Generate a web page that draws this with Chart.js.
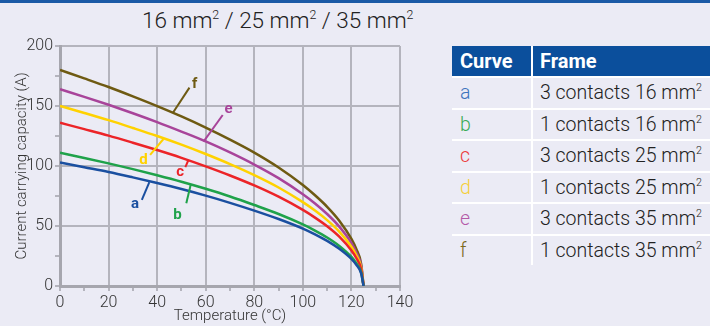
<!DOCTYPE html>
<html>
<head>
<meta charset="utf-8">
<script src="https://cdn.jsdelivr.net/npm/chart.js@4.4.1/dist/chart.umd.min.js"></script>
<style>
  html, body { margin: 0; padding: 0; }
  body { width: 710px; height: 326px; background: #ebebf5; position: relative; overflow: hidden;
         font-family: Roboto, "Liberation Sans", sans-serif; color: #333; }
  #topbar { position: absolute; left: 0; top: 0; width: 710px; height: 3px; background: #1b5aa6; }
  #title { position: absolute; left: 142px; top: 7px; font-size: 22.5px; font-weight: 300; color: #222; white-space: nowrap; }
  sup { font-size: 0.55em; vertical-align: 0.75em; line-height: 0; }
  #wrap { position: absolute; left: 0; top: 0; width: 430px; height: 326px; }
  #tbl { position: absolute; left: 452px; top: 46px; width: 258px; }
  .row { display: flex; height: 29.5px; border-bottom: 2px solid #fff; font-size: 19.5px; font-weight: 300; line-height: 29.5px; color: #222; }
  .row:last-child { border-bottom: none; }
  .row .c1 { width: 71px; padding-left: 8px; border-right: 2px solid #fff; }
  .row .c2 { flex: 1; padding-left: 7px; white-space: nowrap; }
  .head { height: 30px; line-height: 30px; background: #0b4f9c; color: #fff; font-weight: bold; font-size: 20px; }
  .head .c1 { border-right: 2px solid #fff; }
</style>
</head>
<body>
<div id="topbar"></div>
<div id="title">16 mm<sup>2</sup> / 25 mm<sup>2</sup> / 35 mm<sup>2</sup></div>
<div id="wrap"><canvas id="myChart"></canvas></div>
<div id="tbl"></div>
<script>
// curve values (A) at these temperatures (°C)
const temps = [0, 10, 20, 30, 40, 50, 60, 70, 80, 90, 100, 105, 110, 115, 120, 122, 124, 125];
const curveA = [103, 99, 95, 90.5, 85.8, 80.8, 75.3, 69.3, 62.8, 55.8, 47.8, 43, 37.6, 31, 22.5, 17.6, 10.5, 0];
const curveB = [111, 106.7, 102.2, 97.4, 92.3, 86.9, 81, 74.6, 67.5, 60, 51.3, 46.2, 40.4, 33.4, 24.2, 19, 11.3, 0];
const curveC = [136, 130.7, 125.3, 119.4, 113.3, 106.8, 99.7, 92.1, 83.8, 74.4, 63.4, 57, 49.8, 41.1, 29.6, 23.3, 13.9, 0];
const curveD = [150, 144.2, 138.2, 131.7, 125, 117.8, 110, 101.6, 92.4, 82.1, 69.9, 62.9, 54.9, 45.3, 32.7, 25.7, 15.3, 0];
const curveE = [164, 157.6, 151, 144, 136.6, 128.7, 120.5, 111.3, 101.2, 89.9, 76.5, 68.8, 60, 49.5, 35.8, 28, 16.7, 0];
const curveF = [180, 173, 165.8, 158, 149.9, 141.3, 132, 122, 111.2, 98.8, 84.2, 75.6, 66, 54.4, 39.2, 30.8, 18.4, 0];

const curveNames = ['a', 'b', 'c', 'd', 'e', 'f'];
const frameLabels = ['3 contacts 16 mm<sup>2</sup>', '1 contacts 16 mm<sup>2</sup>', '3 contacts 25 mm<sup>2</sup>',
                     '1 contacts 25 mm<sup>2</sup>', '3 contacts 35 mm<sup>2</sup>', '1 contacts 35 mm<sup>2</sup>'];
const xTicks = [0, 20, 40, 60, 80, 100, 120, 140];
const yTicks = [0, 50, 100, 150, 200];

const lineColors = ['#1a4fa0', '#1fa24a', '#ec2428', '#ffd200', '#a8449a', '#6e5a12'];
const textColors = ['#3d74bd', '#3aaa55', '#ec3a3a', '#f5cf3a', '#b45aa8', '#7d6a1c'];

// leader lines: start on curve, end, letter position (data units)
const leaders = [
    { from: [36.8, 86.5], to: [33.7, 71.7], at: [30.9, 68.3] },
    { from: [53.9, 85], to: [52, 68.9], at: [48.4, 59.2] },
    { from: [52.9, 105], to: [51.6, 99], at: [49.5, 94.4] },
    { from: [42.6, 122.5], to: [37.1, 109.2], at: [34.4, 105] },
    { from: [59.1, 120.3], to: [67, 142.5], at: [69.4, 147.5] },
    { from: [46.5, 144.4], to: [53.3, 165.3], at: [55.5, 168] }
];

// table on the right
const tbl = document.getElementById('tbl');
tbl.innerHTML = '<div class="row head"><div class="c1">Curve</div><div class="c2">Frame</div></div>' +
    curveNames.map((n, i) =>
        '<div class="row"><div class="c1" style="color:' + textColors[i] + '">' + n +
        '</div><div class="c2">' + frameLabels[i] + '</div></div>').join('');

const series = [curveA, curveB, curveC, curveD, curveE, curveF];

const leaderPlugin = {
    id: 'leaders',
    afterDatasetsDraw(chart) {
        const { ctx, scales: { x, y } } = chart;
        ctx.save();
        leaders.forEach((l, i) => {
            ctx.strokeStyle = lineColors[i];
            ctx.lineWidth = 2;
            ctx.beginPath();
            ctx.moveTo(x.getPixelForValue(l.from[0]), y.getPixelForValue(l.from[1]));
            ctx.lineTo(x.getPixelForValue(l.to[0]), y.getPixelForValue(l.to[1]));
            ctx.stroke();
            ctx.fillStyle = lineColors[i];
            ctx.font = 'bold 15px Roboto, sans-serif';
            ctx.textAlign = 'center';
            ctx.textBaseline = 'middle';
            ctx.fillText(curveNames[i], x.getPixelForValue(l.at[0]), y.getPixelForValue(l.at[1]));
        });
        ctx.restore();
    }
};

const gridGrey = '#b4b4bd';
const axisGrey = '#a6a6ae';

new Chart(document.getElementById('myChart'), {
    type: 'line',
    data: {
        datasets: series.map((s, i) => ({
            label: curveNames[i],
            data: temps.map((t, k) => ({ x: t, y: s[k] })),
            borderColor: lineColors[i],
            borderWidth: 2.5,
            pointRadius: 0,
            cubicInterpolationMode: 'monotone',
            fill: false
        }))
    },
    options: {
        responsive: true,
        maintainAspectRatio: false,
        animation: false,
        layout: { padding: { top: 46, right: 30, left: 0, bottom: 0 } },
        plugins: { legend: { display: false }, tooltip: { enabled: false } },
        scales: {
            x: {
                type: 'linear',
                min: 0, max: 140,
                afterFit(scale) { scale.height = 40; },
                ticks: {
                    stepSize: 10,
                    padding: 2,
                    color: '#333',
                    font: { size: 16, family: 'Roboto', weight: '300' },
                    maxRotation: 0,
                    autoSkip: false,
                    callback: v => xTicks.includes(v) ? v : ''
                },
                grid: {
                    color: c => (c.tick && xTicks.includes(c.tick.value)) ? gridGrey : 'rgba(0,0,0,0)',
                    tickColor: gridGrey,
                    lineWidth: 2,
                    tickLength: 5
                },
                border: { color: axisGrey, width: 3 },
                title: {
                    display: true, text: 'Temperature (°C)', color: '#333',
                    font: { size: 15, family: 'Roboto', weight: '300' }, padding: { top: 0, bottom: 1 }
                }
            },
            y: {
                min: 0, max: 200,
                afterFit(scale) { scale.width = 60; },
                ticks: {
                    stepSize: 25,
                    padding: 2,
                    color: '#333',
                    font: { size: 16, family: 'Roboto', weight: '300' },
                    autoSkip: false,
                    callback: v => yTicks.includes(v) ? v : ''
                },
                grid: {
                    color: c => (c.tick && yTicks.includes(c.tick.value)) ? gridGrey : 'rgba(0,0,0,0)',
                    tickColor: gridGrey,
                    lineWidth: 2,
                    tickLength: 5
                },
                border: { color: axisGrey, width: 3 },
                title: {
                    display: true, text: 'Current carrying capacity (A)', color: '#333',
                    font: { size: 15, family: 'Roboto', weight: '300' }, padding: { top: 13, bottom: 0 }
                }
            }
        }
    },
    plugins: [leaderPlugin]
});
</script>
</body>
</html>
